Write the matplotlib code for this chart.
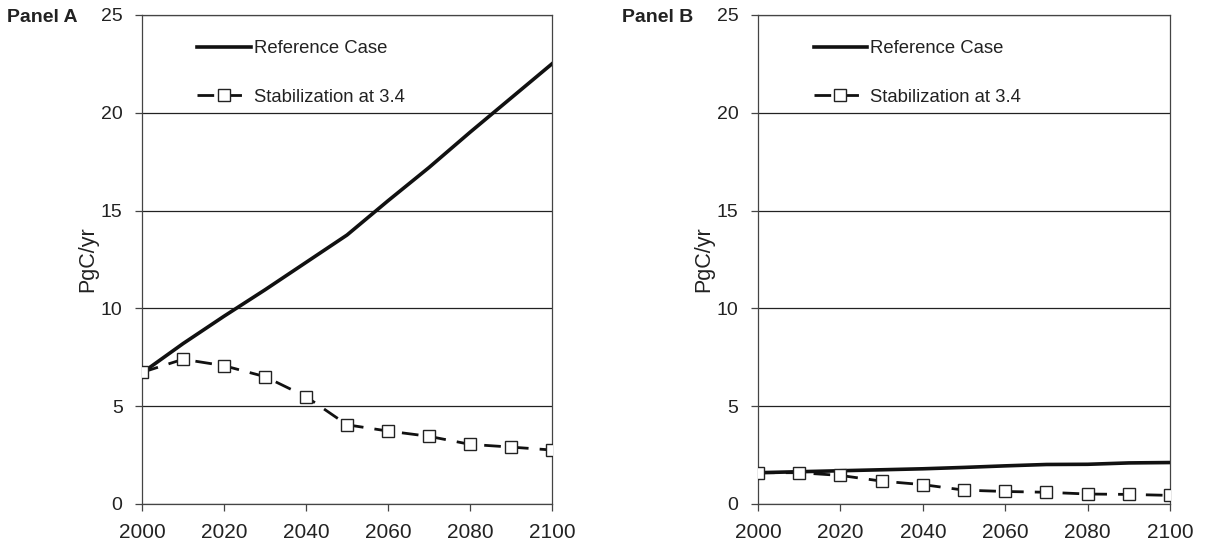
import matplotlib
matplotlib.use("Agg")
import matplotlib.pyplot as plt

plt.rcParams["font.family"] = ["Liberation Sans", "DejaVu Sans"]

years = [2000, 2010, 2020, 2030, 2040, 2050, 2060, 2070, 2080, 2090, 2100]

# Panel A
ref_a = [6.7, 8.2, 9.6, 10.95, 12.35, 13.75, 15.5, 17.2, 19.0, 20.75, 22.5]
stab_a = [6.73, 7.4, 7.07, 6.51, 5.49, 4.05, 3.73, 3.46, 3.05, 2.91, 2.76]

# Panel B
ref_b = [1.6, 1.65, 1.7, 1.75, 1.8, 1.87, 1.95, 2.02, 2.03, 2.1, 2.12]
stab_b = [1.6, 1.6, 1.46, 1.17, 0.99, 0.71, 0.64, 0.6, 0.51, 0.49, 0.44]

panels = ["Panel A", "Panel B"]
ref_label = "Reference Case"
stab_label = "Stabilization at 3.4"
ylabel = "PgC/yr"
xticks = [2000, 2020, 2040, 2060, 2080, 2100]
yticks = [0, 5, 10, 15, 20, 25]

TXT = "#222222"

fig = plt.figure(figsize=(12.09, 5.51), dpi=100)
positions = [[0.1175, 0.0853, 0.339, 0.8875], [0.627, 0.0853, 0.3408, 0.8875]]
data = [(ref_a, stab_a), (ref_b, stab_b)]

for pos, (ref, stab), title in zip(positions, data, panels):
    ax = fig.add_axes(pos)
    ax.plot(years, ref, color="#111111", lw=2.6, label=ref_label, zorder=3)
    ax.plot(years, stab, color="#111111", lw=2.0, dashes=(6, 4),
            marker="s", markersize=8, markerfacecolor="white",
            markeredgecolor="#222222", markeredgewidth=1.0,
            label=stab_label, zorder=4)
    ax.set_xlim(2000, 2100)
    ax.set_ylim(0, 25)
    ax.set_xticks(xticks)
    ax.set_yticks(yticks)
    ax.grid(axis="y", color="#222222", lw=0.9)
    ax.set_axisbelow(True)
    for s in ax.spines.values():
        s.set_color("#444444")
        s.set_linewidth(0.9)
    ax.tick_params(direction="out", length=5, width=0.9, color="#444444",
                   labelcolor=TXT)
    ax.tick_params(axis="y", labelsize=14, pad=9)
    ax.tick_params(axis="x", labelsize=15, pad=9)
    ax.set_ylabel(ylabel, fontsize=15.5, color=TXT)
    ax.yaxis.set_label_coords(-0.107, 0.5)
    ax.text(-0.33, 0.995, title, transform=ax.transAxes, fontsize=14,
            fontweight="bold", color=TXT, ha="left", va="center")
    leg = ax.legend(loc="upper left", bbox_to_anchor=(0.135, 0.948),
                    frameon=False, fontsize=13.3, handlelength=2.9,
                    handletextpad=0.15, labelspacing=1.7, borderpad=0,
                    borderaxespad=0)
    for t in leg.get_texts():
        t.set_color(TXT)

fig.savefig("out.png", dpi=100)
